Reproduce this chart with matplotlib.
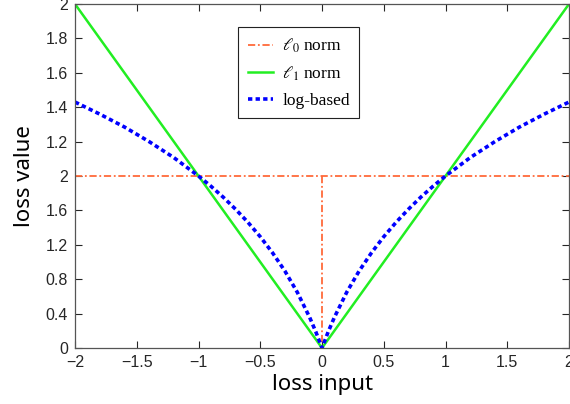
import matplotlib
matplotlib.use("Agg")
import matplotlib.pyplot as plt

# data
nan = float("nan")
x_l0 = [-2.0, 2.0, nan, 0.0, 0.0]
y_l0 = [1.0, 1.0, nan, 1.0, 0.0]

x_l1 = [-2.0, 0.0, 2.0]
y_l1 = [2.0, 0.0, 2.0]

x_log = [-2.0, -1.8, -1.6, -1.4, -1.2, -1.0, -0.9, -0.8, -0.7, -0.6, -0.5, -0.4,
         -0.3, -0.2, -0.1, -0.05, 0.0, 0.05, 0.1, 0.2, 0.3, 0.4, 0.5, 0.6, 0.7,
         0.8, 0.9, 1.0, 1.2, 1.4, 1.6, 1.8, 2.0]
y_log = [1.43, 1.36, 1.285, 1.20, 1.107, 1.0, 0.941, 0.877, 0.807, 0.731, 0.647,
         0.553, 0.447, 0.324, 0.178, 0.094, 0.0, 0.094, 0.178, 0.324, 0.447,
         0.553, 0.647, 0.731, 0.807, 0.877, 0.941, 1.0, 1.107, 1.20, 1.285,
         1.36, 1.43]

x_ticks = [-2, -1.5, -1, -0.5, 0, 0.5, 1, 1.5, 2]
x_ticklabels = ["\u22122", "\u22121.5", "\u22121", "\u22120.5", "0", "0.5", "1", "1.5", "2"]
y_ticks = [0, 0.2, 0.4, 0.6, 0.8, 1.0, 1.2, 1.4, 1.6, 1.8, 2.0]
y_ticklabels = ["0", "0.4", "0.8", "1.2", "1.6", "2", "1.2", "1.4", "1.6", "1.8", "2"]

plt.rcParams["mathtext.fontset"] = "stix"
plt.rcParams["font.family"] = ["Liberation Sans", "DejaVu Sans"]

fig = plt.figure(figsize=(5.7, 4.04), dpi=100)
ax = fig.add_axes([75 / 570, 56 / 404, 494 / 570, 344 / 404])

ax.plot(x_l0, y_l0, color="#FF6A3A", linestyle=(0, (4, 1.5, 1, 1.5)), linewidth=1.3,
        label=r"$\ell_0$ norm")
ax.plot(x_l1, y_l1, color="#22EE22", linestyle="-", linewidth=1.8, label=r"$\ell_1$ norm")
ax.plot(x_log, y_log, color="#0000FF", linestyle=(0, (1.2, 0.9)), linewidth=2.6, label="log-based")

ax.set_xlim(-2, 2)
ax.set_ylim(0, 2)
ax.set_xticks(x_ticks)
ax.set_xticklabels(x_ticklabels)
ax.set_yticks(y_ticks)
ax.set_yticklabels(y_ticklabels)
ax.tick_params(direction="in", top=True, right=True, labelsize=11.5, colors="#262626",
               length=5, width=0.8, pad=5)
for s in ax.spines.values():
    s.set_color("#555555")
    s.set_linewidth(0.9)

ax.set_xlabel("loss input", fontsize=16, family=["Noto Sans", "DejaVu Sans"], labelpad=3)
ax.set_ylabel("loss value", fontsize=16, family=["Noto Sans", "DejaVu Sans"], labelpad=8)

leg = ax.legend(loc="upper left", bbox_to_anchor=(0.33, 0.933), borderaxespad=0,
                fancybox=False, edgecolor="#222222", framealpha=1,
                prop={"family": ["Liberation Serif"], "size": 12.5},
                handlelength=1.45, handletextpad=0.55, borderpad=0.55, labelspacing=0.55)
leg.get_frame().set_linewidth(0.8)

fig.savefig("out.png", dpi=100)
